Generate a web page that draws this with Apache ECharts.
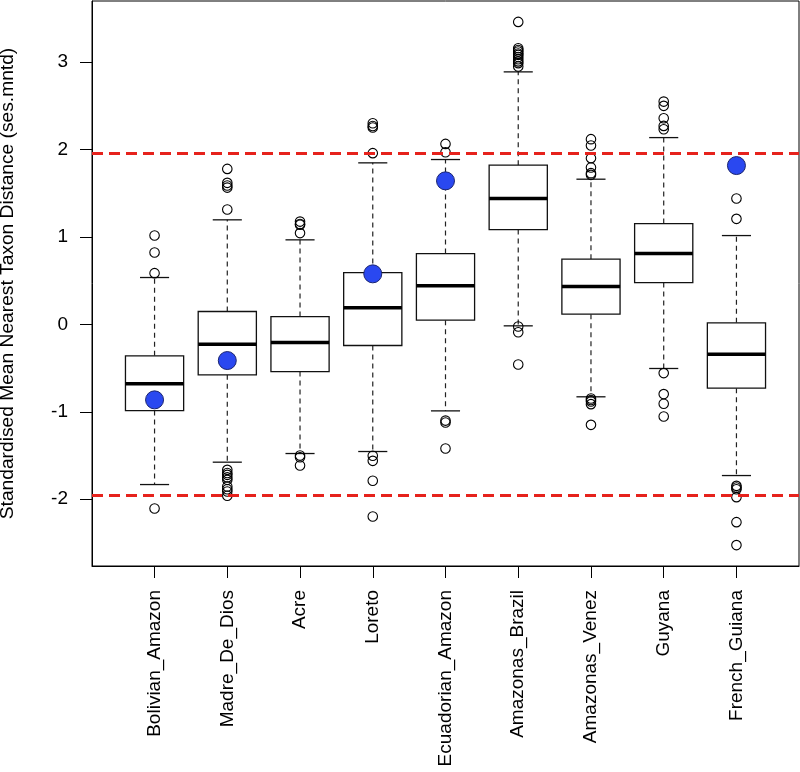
<!DOCTYPE html>
<html>
<head>
<meta charset="utf-8">
<script src="https://cdn.jsdelivr.net/npm/echarts@6/dist/echarts.min.js"></script>
<style>html,body{margin:0;padding:0;background:#fff}#c{width:800px;height:772px}</style>
</head>
<body>
<div id="c"></div>
<script>
const categories = ["Bolivian_Amazon","Madre_De_Dios","Acre","Loreto","Ecuadorian_Amazon","Amazonas_Brazil","Amazonas_Venez","Guyana","French_Guiana"];
const whiskerLow  = [-1.832, -1.576, -1.477, -1.454, -0.989, -0.016, -0.828, -0.504, -1.729];
const q1          = [-0.985, -0.577, -0.539, -0.241,  0.049,  1.086,  0.118,  0.479, -0.729];
const median      = [-0.680, -0.226, -0.207,  0.190,  0.442,  1.441,  0.434,  0.811, -0.340];
const q3          = [-0.359,  0.148,  0.090,  0.594,  0.811,  1.823,  0.747,  1.154,  0.018];
const whiskerHigh = [ 0.537,  1.197,  0.968,  1.849,  1.887,  2.890,  1.662,  2.138,  1.017];
const outliers = [
  [1.017, 0.823, 0.587, -2.106],
  [1.78, 1.62, 1.59, 1.566, 1.315, -1.664, -1.70, -1.721, -1.75, -1.778, -1.855, -1.885, -1.912, -1.961],
  [1.177, 1.150, 1.140, 1.045, -1.50, -1.52, -1.614],
  [2.303, 2.270, 2.253, 1.960, -1.503, -1.561, -1.789, -2.198],
  [2.066, 1.971, -1.100, -1.122, -1.420],
  [3.462, 3.161, 3.14, 3.123, 3.10, 3.085, 3.06, 3.035, 3.01, 2.99, 2.951, -0.024, -0.089, -0.459],
  [2.120, 2.047, 1.903, 1.795, 1.731, 1.712, -0.848, -0.865, -0.882, -0.912, -1.149],
  [2.550, 2.501, 2.360, 2.272, 2.234, -0.557, -0.797, -0.908, -1.054],
  [1.441, 1.208, -1.847, -1.865, -1.885, -1.976, -2.262, -2.525]
];
const observed = [-0.863, -0.413, null, 0.579, 1.643, null, null, null, 1.818];
const yTicks = [-2, -1, 0, 1, 2, 3];
const threshold = 1.96;

const positions = categories.map((c, i) => i + 1);
const boxData = categories.map((c, i) => [positions[i], whiskerLow[i], q1[i], median[i], q3[i], whiskerHigh[i]]);
const outlierData = [];
outliers.forEach((arr, i) => arr.forEach(v => outlierData.push([positions[i], v])));
const obsData = [];
observed.forEach((v, i) => { if (v !== null) obsData.push([positions[i], v]); });

const FONT = 'Liberation Sans, Arial, Helvetica, sans-serif';
const chart = echarts.init(document.getElementById('c'), null, {renderer: 'canvas'});

function renderBox(params, api) {
  const x = api.value(0);
  const pLo = api.coord([x, api.value(1)]);
  const pQ1 = api.coord([x, api.value(2)]);
  const pMed = api.coord([x, api.value(3)]);
  const pQ3 = api.coord([x, api.value(4)]);
  const pHi = api.coord([x, api.value(5)]);
  const hw = api.size([0.8, 0])[0] / 2;
  const cw = api.size([0.4, 0])[0] / 2;
  const cx = pMed[0];
  const dash = {stroke: '#222', lineWidth: 1.2, lineDash: [5, 4]};
  const solid = {stroke: '#111', lineWidth: 1.3};
  return {
    type: 'group',
    children: [
      {type: 'line', shape: {x1: cx, y1: pQ3[1], x2: cx, y2: pHi[1]}, style: dash},
      {type: 'line', shape: {x1: cx, y1: pQ1[1], x2: cx, y2: pLo[1]}, style: dash},
      {type: 'line', shape: {x1: cx - cw, y1: pHi[1], x2: cx + cw, y2: pHi[1]}, style: solid},
      {type: 'line', shape: {x1: cx - cw, y1: pLo[1], x2: cx + cw, y2: pLo[1]}, style: solid},
      {type: 'rect', shape: {x: cx - hw, y: pQ3[1], width: 2 * hw, height: pQ1[1] - pQ3[1]}, style: {fill: '#fff', stroke: '#111', lineWidth: 1.3}},
      {type: 'line', shape: {x1: cx - hw, y1: pMed[1], x2: cx + hw, y2: pMed[1]}, style: {stroke: '#000', lineWidth: 3.5}}
    ]
  };
}

chart.setOption({
  animation: false,
  backgroundColor: '#fff',
  grid: {left: 92, right: 1, top: 1, bottom: 206, containLabel: false, outerBoundsMode: 'none',
         show: true, borderColor: '#000', borderWidth: 1, backgroundColor: 'transparent'},
  xAxis: {
    type: 'value', min: 0.14, max: 9.86,
    splitLine: {show: false},
    axisLine: {show: true, onZero: false, lineStyle: {color: '#000', width: 1}},
    axisTick: {show: true, length: 12, customValues: positions, lineStyle: {color: '#000'}},
    axisLabel: {
      customValues: positions, rotate: 90, margin: 24,
      color: '#000', fontSize: 19, fontFamily: FONT,
      formatter: v => categories[Math.round(v) - 1] || ''
    }
  },
  yAxis: {
    type: 'value', min: -2.764, max: 3.701,
    name: 'Standardised Mean Nearest Taxon Distance (ses.mntd)',
    nameLocation: 'middle', nameGap: 75,
    nameTextStyle: {color: '#000', fontSize: 19.2, fontFamily: FONT},
    splitLine: {show: false},
    axisLine: {show: true, onZero: false, lineStyle: {color: '#000', width: 1}},
    axisTick: {show: true, length: 12, customValues: yTicks, lineStyle: {color: '#000'}},
    axisLabel: {customValues: yTicks, margin: 24, color: '#000', fontSize: 19, fontFamily: FONT}
  },
  series: [
    {
      type: 'custom', name: 'box', renderItem: renderBox, data: boxData,
      encode: {x: 0, y: [1, 2, 3, 4, 5]}, z: 2
    },
    {
      type: 'scatter', name: 'outliers', data: outlierData, symbol: 'circle', symbolSize: 9.5,
      itemStyle: {color: 'rgba(255,255,255,0)', borderColor: '#000', borderWidth: 1.1, opacity: 1}, z: 3
    },
    {
      type: 'line', name: 'threshold', data: [], z: 4,
      markLine: {
        silent: true, symbol: 'none', label: {show: false},
        lineStyle: {color: '#e6221c', width: 3, type: [11, 6]},
        data: [{yAxis: threshold}, {yAxis: -threshold}]
      }
    },
    {
      type: 'scatter', name: 'observed', data: obsData, symbol: 'circle', symbolSize: 18,
      itemStyle: {color: '#2a48f0', borderColor: '#1a2470', borderWidth: 1, opacity: 1}, z: 5
    }
  ]
});
</script>
</body>
</html>
